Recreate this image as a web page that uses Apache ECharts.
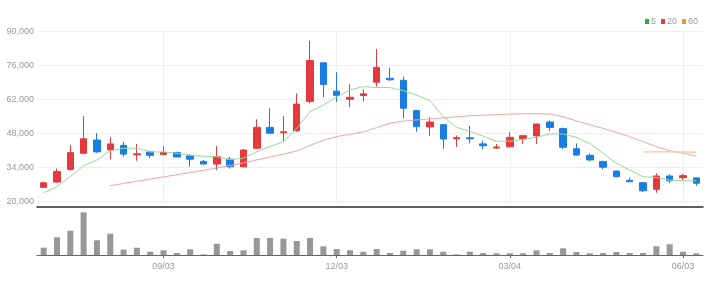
<!DOCTYPE html>
<html><head><meta charset="utf-8">
<script src="https://cdn.jsdelivr.net/npm/echarts@6/dist/echarts.min.js"></script>
<style>html,body{margin:0;padding:0;background:#fff}#c{width:717px;height:287px}</style>
</head><body><div id="c"></div>
<script>
var dates = ['07/02','07/09','07/16','07/23','07/30','08/06','08/13','08/20','08/27','09/03','09/10','09/17','09/24','10/01','10/08','10/15','10/22','10/29','11/05','11/12','11/19','11/26','12/03','12/10','12/17','12/24','12/31','01/07','01/14','01/21','01/28','02/04','02/11','02/18','02/25','03/04','03/11','03/18','03/25','04/01','04/08','04/15','04/22','04/29','05/06','05/13','05/20','05/27','06/03','06/10'];
var opens = [25900,28100,33300,39900,45400,41300,43200,39300,40500,39400,40200,38900,36600,35500,37500,34400,42000,50600,48400,49200,61300,77200,65500,62200,63700,69200,70800,70000,57500,50800,51700,45900,46300,43800,42100,42600,45800,47100,52800,50100,41800,39100,36500,32600,28800,27800,25100,30600,29900,29800];
var closes = [27800,32400,40200,45900,40500,43800,39600,39700,39100,40300,38400,37500,35500,38500,34400,41300,50600,48200,48800,60200,78100,68300,63800,63000,64400,75300,70200,58500,50900,52800,45800,46400,45900,43000,42500,46500,47200,52000,50600,42400,39200,37200,34200,30300,28200,24500,30600,28600,30700,27600];
var lows = [25700,27800,32800,39600,40200,37500,38500,36900,38000,39200,38300,34400,35400,33000,33600,34200,41700,47900,44700,48700,60500,63000,61100,58900,61300,67400,69800,54200,48800,47000,41800,42600,44000,41700,41800,42400,43800,43800,49200,41600,38900,36600,33300,30000,28100,24000,23700,27600,28900,26500];
var highs = [28200,33600,43300,55300,48200,46500,44600,43800,41000,42900,40600,39600,37200,42900,38500,41700,53900,58500,55300,64600,86300,77300,73300,68400,66300,82900,75200,71500,57800,54800,51800,47300,51200,45100,43800,48600,47400,52100,53400,50500,44000,39900,36900,32800,30000,28100,31700,31300,31400,29900];
var volumes = [73000,177000,243000,427000,147000,213000,53000,73000,33000,47000,20000,57000,7000,113000,40000,47000,170000,170000,163000,140000,170000,87000,60000,47000,33000,60000,20000,43000,57000,57000,33000,7000,33000,20000,17000,17000,17000,47000,20000,67000,30000,17000,20000,30000,20000,20000,87000,107000,33000,17000];
var ma5 = [23700,26200,30300,34800,37200,41000,42000,42000,40500,40500,39900,39100,38700,38500,37300,37900,40600,42700,44700,50200,57100,59800,63200,66000,67400,67000,67000,65700,63900,61600,55000,50600,49000,47000,44900,44900,45700,46500,47900,47900,46500,44000,39900,35800,33000,30300,30000,28900,28600,28600];
var ma20 = [null,null,null,null,null,26600,27500,28400,29300,30200,31100,32000,32900,33900,34900,36000,37200,38400,39600,40900,43200,45300,46800,47800,48800,50500,52300,53200,53700,54100,54500,55000,55400,55600,55800,56100,56200,56200,56100,55000,53300,51700,50200,48500,46800,44700,42700,41000,40000,38800];
var ma60 = [null,null,null,null,null,null,null,null,null,null,null,null,null,null,null,null,null,null,null,null,null,null,null,null,null,null,null,null,null,null,null,null,null,null,null,null,null,null,null,null,null,null,null,null,null,40500,40600,40600,40500,40400];
var yTicks = [20000, 34000, 48000, 62000, 76000, 90000];
var maNames = ['5', '20', '60'];

var FONT = "'Liberation Sans Narrow', 'Liberation Sans', sans-serif";
var labelEvery = function (i) { return (i - 9) % 13 === 0; };
var candleData = dates.map(function (d, i) { return [opens[i], closes[i], lows[i], highs[i]]; });

var chart = echarts.init(document.getElementById('c'), null, {renderer: 'canvas'});
chart.setOption({
  animation: false,
  backgroundColor: '#fff',
  textStyle: {fontFamily: FONT},
  legend: {
    right: 14, top: 12, icon: 'rect', itemWidth: 4, itemHeight: 5, itemGap: 5,
    textStyle: {color: '#999', fontSize: 9, fontFamily: FONT, padding: [0, 0, 0, -3]},
    data: [
      {name: maNames[0], itemStyle: {color: '#1fb33f'}},
      {name: maNames[1], itemStyle: {color: '#e8383d'}},
      {name: maNames[2], itemStyle: {color: '#f39233'}}
    ]
  },
  grid: [
    {left: 37, right: 14, top: 31.7, height: 170},
    {left: 37, right: 14, top: 212, height: 43}
  ],
  xAxis: [
    {type: 'category', gridIndex: 0, data: dates, boundaryGap: true, offset: 5,
     axisLine: {lineStyle: {color: '#2a2a2a', width: 1.5}},
     axisTick: {show: false}, axisLabel: {show: false},
     splitLine: {show: true, interval: labelEvery, alignWithLabel: true, lineStyle: {color: '#eeeeee'}}},
    {type: 'category', gridIndex: 1, data: dates, boundaryGap: true,
     axisLine: {lineStyle: {color: '#666', width: 1.2}},
     axisTick: {show: true, interval: labelEvery, alignWithLabel: true, length: 3, lineStyle: {color: '#666'}},
     axisLabel: {interval: labelEvery, color: '#999', fontSize: 9, margin: 7, fontFamily: FONT},
     splitLine: {show: false}}
  ],
  yAxis: [
    {type: 'value', gridIndex: 0, min: yTicks[0], max: yTicks[yTicks.length - 1], interval: 14000,
     axisLine: {show: false}, axisTick: {show: false},
     axisLabel: {color: '#999', fontSize: 9, margin: 3, fontFamily: FONT,
       formatter: function (v) { return v.toLocaleString('en-US'); }},
     splitLine: {lineStyle: {color: '#eeeeee'}}},
    {type: 'value', gridIndex: 1, min: 0, max: 430000, show: false, splitLine: {show: false}}
  ],
  series: [
    {type: 'candlestick', name: 'price', xAxisIndex: 0, yAxisIndex: 0, data: candleData, barWidth: 7,
     itemStyle: {color: '#e53a3d', color0: '#1a7de3', borderColor: '#e53a3d', borderColor0: '#1a7de3', borderWidth: 1}},
    {type: 'line', name: maNames[0], data: ma5, symbol: 'none', smooth: false,
     itemStyle: {color: '#1fb33f'}, lineStyle: {color: '#95db95', width: 1}},
    {type: 'line', name: maNames[1], data: ma20, symbol: 'none',
     itemStyle: {color: '#e8383d'}, lineStyle: {color: '#f4a3a3', width: 1}},
    {type: 'line', name: maNames[2], data: ma60, symbol: 'none',
     itemStyle: {color: '#f39233'}, lineStyle: {color: '#f8cfae', width: 1.5}},
    {type: 'bar', name: 'volume', xAxisIndex: 1, yAxisIndex: 1, data: volumes, barWidth: 6,
     itemStyle: {color: '#979797'}}
  ]
});
</script>
</body></html>
